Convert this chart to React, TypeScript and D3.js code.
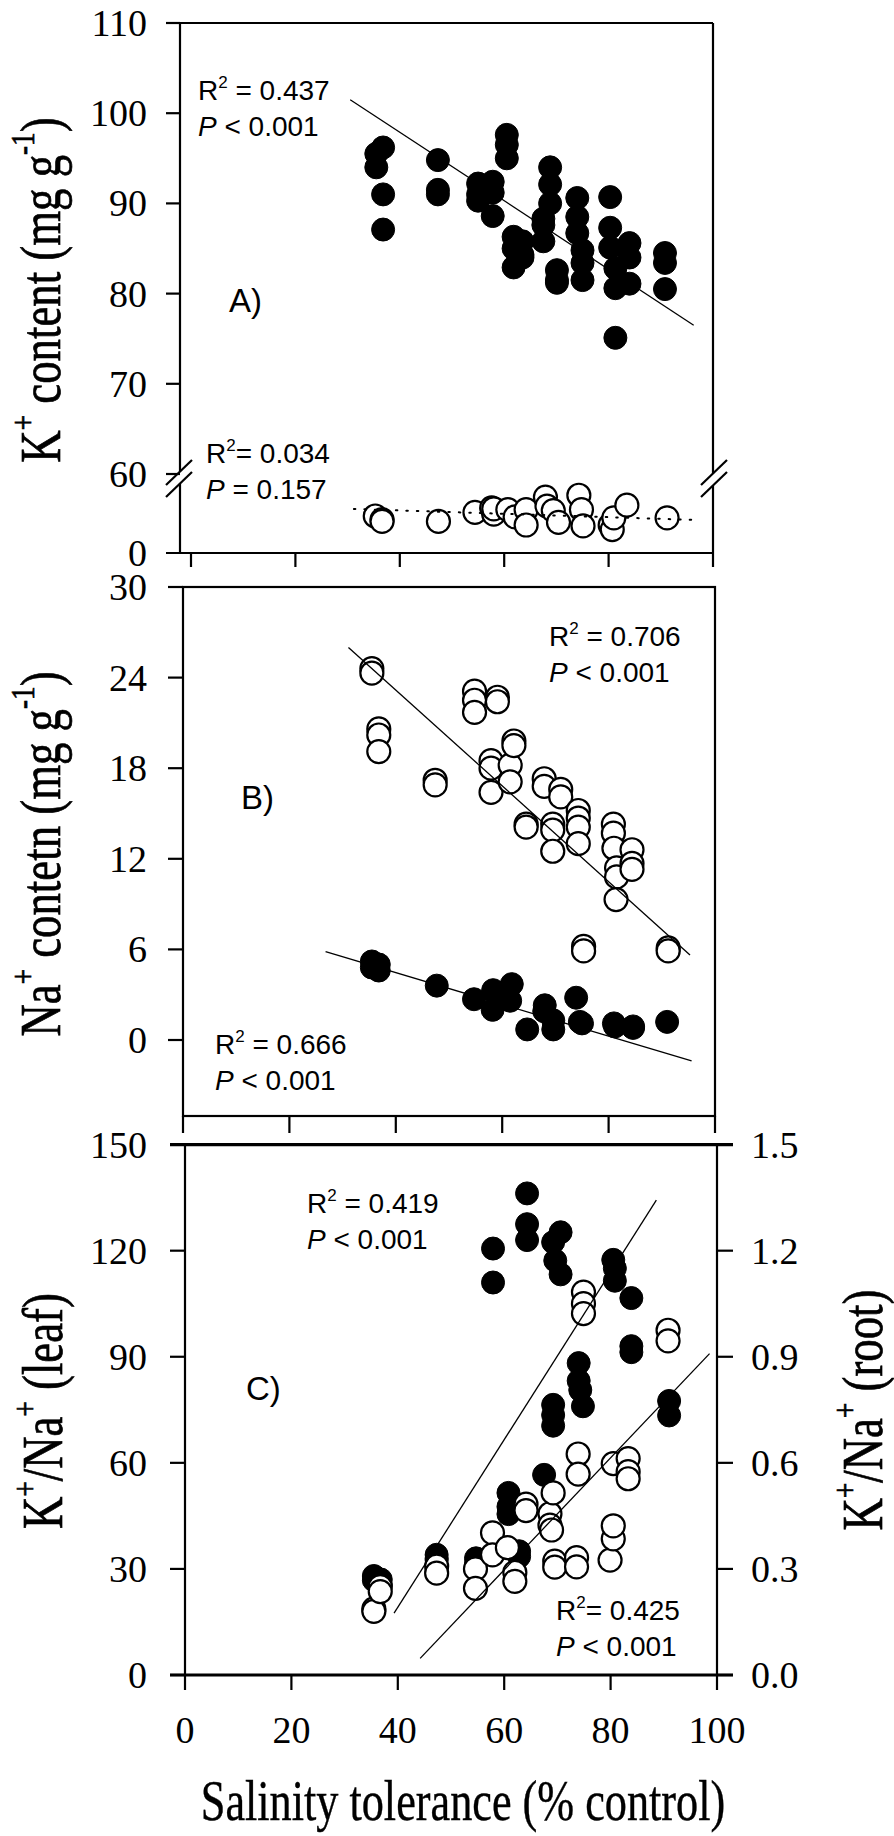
import React from "react";
import * as d3 from "d3";

// values (x = salinity tolerance, % control)
const xTicks = [0, 20, 40, 60, 80, 100];
const kTicksUpper = [60, 70, 80, 90, 100, 110];
const kTicksLower = [0];
const naTicks = [0, 6, 12, 18, 24, 30];
const leafTicks = [0, 30, 60, 90, 120, 150];
const rootTicks = [0, 0.3, 0.6, 0.9, 1.2, 1.5];

// A) K+ content, filled circles (upper segment)
const kFilled: [number, number][] = [
  [35.5, 95.5], [35.5, 94.0], [36.8, 96.2], [36.8, 91.0], [36.8, 87.1],
  [47.3, 94.8], [47.3, 91.5], [47.3, 91.0],
  [55.0, 92.2], [55.0, 91.0], [55.0, 90.3],
  [57.8, 92.4], [57.8, 91.2], [57.8, 88.6],
  [60.5, 97.6], [60.5, 96.5], [60.5, 95.0],
  [61.8, 86.3], [61.8, 85.0], [61.8, 82.9],
  [63.5, 85.8], [63.5, 84.3], [63.5, 84.0],
  [67.5, 88.3], [67.5, 87.6], [67.5, 85.8],
  [68.8, 94.0], [68.8, 92.1], [68.8, 90.0],
  [70.1, 82.6], [70.1, 81.5], [70.1, 81.2],
  [74.0, 90.6], [74.0, 88.5], [74.0, 86.7],
  [75.0, 84.8], [75.0, 83.4], [75.0, 81.5],
  [80.3, 90.7], [80.3, 87.3], [80.3, 85.1],
  [81.3, 82.8], [81.3, 80.6], [81.3, 75.1],
  [84.0, 85.6], [84.0, 84.0], [84.0, 81.1],
  [90.8, 84.5], [90.8, 83.4], [90.8, 80.5],
];
// A) K+ content, open circles (lower segment)
const kOpen: [number, number][] = [
  [35.3, 4.1], [36.6, 3.7], [36.6, 3.5], [47.4, 3.5], [54.4, 4.5],
  [57.6, 5.0], [58.0, 4.3], [58.0, 4.9], [60.7, 4.8], [62.1, 4.0],
  [64.2, 4.8], [64.2, 3.1], [67.9, 6.2], [68.2, 5.2], [69.4, 4.7],
  [70.4, 3.4], [74.3, 6.4], [74.8, 4.8], [75.1, 3.0], [80.3, 3.1],
  [80.7, 2.6], [81.0, 3.9], [83.5, 5.3], [91.2, 3.9],
];
// B) Na+ content
const naOpen: [number, number][] = [
  [35.5, 24.6], [35.5, 24.3], [36.8, 20.6], [36.8, 20.2], [36.8, 19.1],
  [47.4, 17.2], [47.4, 16.9], [54.8, 23.1], [54.8, 22.5], [54.8, 21.7],
  [59.1, 22.7], [59.1, 22.4], [57.9, 18.5], [57.9, 18.0], [57.9, 16.4],
  [61.5, 18.2], [61.5, 17.1], [62.2, 19.8], [62.2, 19.5],
  [64.5, 14.3], [64.5, 14.1], [67.9, 17.3], [67.9, 16.8],
  [69.5, 14.3], [69.5, 13.9], [69.5, 12.5], [71.0, 16.6], [71.0, 16.1],
  [74.3, 15.2], [74.3, 14.7], [74.3, 14.1], [74.3, 13.0],
  [75.3, 6.2], [75.3, 5.9],
  [80.9, 14.3], [80.9, 13.7], [81.0, 12.7], [81.5, 11.4], [81.5, 10.8], [81.4, 9.3],
  [84.4, 12.6], [84.4, 11.7], [84.4, 11.3],
  [91.2, 6.1], [91.2, 5.9],
];
const naFilled: [number, number][] = [
  [35.5, 5.2], [35.5, 4.8], [36.8, 5.0], [36.8, 4.6],
  [47.7, 3.6], [54.7, 2.7], [58.3, 3.3], [58.2, 2.0], [61.8, 3.7],
  [61.5, 2.6], [64.7, 0.7], [68.0, 2.3], [67.9, 1.9], [69.6, 1.3],
  [69.6, 0.7], [73.9, 2.8], [74.6, 1.2], [75.0, 1.1],
  [81.0, 1.1], [81.2, 0.9], [84.6, 0.9], [84.6, 0.8], [91.0, 1.2],
];
// C) K+/Na+ ratio, leaf (filled, left axis) and root (open, right axis)
const ratioLeaf: [number, number][] = [
  [35.5, 28.0], [35.5, 26.8], [36.8, 27.0], [36.8, 25.5],
  [47.3, 34.0], [47.3, 33.0], [47.3, 32.5], [54.7, 33.0], [54.7, 31.5],
  [57.9, 120.6], [57.9, 111.0], [60.8, 51.5], [60.8, 47.6], [60.8, 45.5],
  [62.8, 35.0], [62.8, 33.5], [64.3, 136.2], [64.3, 127.5], [64.3, 123.0],
  [67.5, 56.6], [69.2, 122.4], [69.6, 117.2], [70.6, 125.2], [70.6, 113.3],
  [69.2, 76.4], [69.2, 73.5], [69.2, 70.5],
  [74.0, 88.2], [74.0, 83.2], [74.3, 80.6], [74.8, 76.0],
  [80.5, 117.4], [80.8, 115.0], [80.8, 111.5],
  [83.9, 106.6], [83.9, 93.0], [83.9, 91.3], [91.0, 77.5], [91.0, 73.4],
];
const ratioRoot: [number, number][] = [
  [35.5, 0.187], [35.5, 0.18], [36.7, 0.25], [36.7, 0.236],
  [47.3, 0.308], [47.3, 0.288], [54.6, 0.3], [54.6, 0.245],
  [57.8, 0.402], [57.8, 0.34], [60.6, 0.36], [62.0, 0.29], [62.0, 0.265],
  [64.1, 0.483], [64.1, 0.465], [68.6, 0.456], [68.6, 0.424], [69.2, 0.515], [68.9, 0.41],
  [69.5, 0.322], [69.5, 0.305], [73.6, 0.332], [73.6, 0.306],
  [73.9, 0.625], [73.9, 0.568], [74.9, 1.083], [74.9, 1.05], [74.9, 1.022],
  [79.9, 0.325], [80.5, 0.385], [80.5, 0.422],
  [80.5, 0.598], [83.3, 0.612], [83.3, 0.575], [83.3, 0.555],
  [90.8, 0.975], [90.8, 0.945],
];

// regression lines (end points)
const fitKFilled: [number, number][] = [[30.5, 101.5], [96.3, 76.5]];
const fitKOpen: [number, number][] = [[31.2, 4.88], [96.7, 3.66]];
const fitNaOpen: [number, number][] = [[31.1, 26.0], [95.3, 5.63]];
const fitNaFilled: [number, number][] = [[26.8, 5.85], [95.6, -1.39]];
const fitLeaf: [number, number][] = [[39.3, 17.5], [88.6, 134.3]];
const fitRoot: [number, number][] = [[44.2, 0.047], [98.6, 0.909]];

const serif = "'Liberation Serif', 'Times New Roman', serif";
const sans = "'Liberation Sans', Arial, sans-serif";
const R = 11.5;
const AX = 2.2;

const xA = d3.scaleLinear().domain([0, 100]).range([191, 713]);
const yAup = d3.scaleLinear().domain([60, 110]).range([474, 23]);
const yAlow = d3.scaleLinear().domain([0, 8]).range([553, 480.8]);
const xB = d3.scaleLinear().domain([0, 100]).range([183, 715]);
const yB = d3.scaleLinear().domain([0, 30]).range([1040, 587]);
const xC = d3.scaleLinear().domain([0, 100]).range([185, 717]);
const yCL = d3.scaleLinear().domain([0, 150]).range([1675, 1144.6]);
const yCR = d3.scaleLinear().domain([0, 1.5]).range([1675, 1144.6]);

type Sc = d3.ScaleLinear<number, number>;
type Part = string | { sup: string };
const path = (d: [number, number][], sx: Sc, sy: Sc) =>
  d3.line<[number, number]>().x((p) => sx(p[0])).y((p) => sy(p[1]))(d) || "";

function Dots({ d, sx, sy, open }: { d: [number, number][]; sx: Sc; sy: Sc; open?: boolean }) {
  return (
    <g>
      {d.map((p, i) => (
        <circle key={i} cx={sx(p[0])} cy={sy(p[1])} r={R}
          fill={open ? "#fff" : "#000"} stroke="#000" strokeWidth={open ? 2.2 : 1} />
      ))}
    </g>
  );
}

function Stat({ x, y, r2, p }: { x: number; y: number; r2: string; p: string }) {
  return (
    <g fontFamily={sans} fontSize={28} style={{ whiteSpace: "pre" }}>
      <text x={x} y={y}>R<tspan fontSize={17} dy={-12}>2</tspan><tspan dy={12}>{r2}</tspan></text>
      <text x={x} y={y + 36}><tspan fontStyle="italic">P</tspan>{p}</text>
    </g>
  );
}

function YLabels({ ticks, sy, x, anchor, fmt }: { ticks: number[]; sy: Sc; x: number; anchor: string; fmt?: (v: number) => string }) {
  return (
    <g fontFamily={serif} fontSize={38} textAnchor={anchor}>
      {ticks.map((t) => (
        <text key={t} x={x} y={sy(t)} dy="0.34em">{fmt ? fmt(t) : t}</text>
      ))}
    </g>
  );
}

// text with raised superscripts
function Rich({ parts }: { parts: Part[] }) {
  let raised = false;
  return (
    <>
      {parts.map((p, i) => {
        if (typeof p === "string") {
          const dy = raised ? 26 : undefined;
          raised = false;
          return <tspan key={i} dy={dy}>{p}</tspan>;
        }
        raised = true;
        return <tspan key={i} fontSize={34} dy={-26}>{p.sup}</tspan>;
      })}
    </>
  );
}

function VTitle({ x, y, parts }: { x: number; y: number; parts: Part[] }) {
  return (
    <text transform={`translate(${x},${y}) rotate(-90) scale(0.8,1)`} textAnchor="middle"
      fontFamily={serif} fontSize={56} stroke="#000" strokeWidth={0.7} style={{ whiteSpace: "pre" }}>
      <Rich parts={parts} />
    </text>
  );
}

const titleA: Part[] = ["K", { sup: "+" }, " content (mg g", { sup: "-1" }, ")"];
const titleB: Part[] = ["Na", { sup: "+" }, " contetn (mg g", { sup: "-1" }, ")"];
const titleLeaf: Part[] = ["K", { sup: "+" }, "/Na", { sup: "+" }, " (leaf)"];
const titleRoot: Part[] = ["K", { sup: "+" }, "/Na", { sup: "+" }, " (root)"];

export default function App() {
  const f1 = d3.format(".1f");
  return (
    <svg width={894} height={1836} style={{ position: "absolute", left: 0, top: 0, background: "#fff" }}>
      <g stroke="#000" strokeWidth={AX} fill="none">
        {/* panel A frame with broken axis */}
        <line x1={166} x2={713} y1={23} y2={23} />
        <line x1={166} x2={713} y1={553} y2={553} />
        <line x1={180} x2={180} y1={23} y2={471.5} />
        <line x1={180} x2={180} y1={483.5} y2={553} />
        <line x1={713} x2={713} y1={23} y2={473.5} />
        <line x1={713} x2={713} y1={485.5} y2={553} />
        <line x1={166} y1={485} x2={192} y2={460} />
        <line x1={166} y1={497} x2={192} y2={472} />
        <line x1={701} y1={485} x2={727} y2={460} />
        <line x1={701} y1={497} x2={727} y2={472} />
        {kTicksUpper.map((t) => <line key={t} x1={166} x2={180} y1={yAup(t)} y2={yAup(t)} />)}
        {xTicks.map((t) => <line key={t} x1={xA(t)} x2={xA(t)} y1={553} y2={567} />)}
        {/* panel B frame */}
        <rect x={183} y={587} width={532} height={529} />
        {naTicks.map((t) => <line key={t} x1={168} x2={183} y1={yB(t)} y2={yB(t)} />)}
        {xTicks.map((t) => <line key={t} x1={xB(t)} x2={xB(t)} y1={1116} y2={1133} />)}
        {/* panel C frame */}
        <line x1={185} x2={185} y1={1144.6} y2={1675} />
        <line x1={717} x2={717} y1={1144.6} y2={1675} />
        <line x1={170} x2={733} y1={1144.6} y2={1144.6} strokeWidth={3.2} />
        <line x1={170} x2={733} y1={1675} y2={1675} strokeWidth={3.2} />
        {leafTicks.map((t) => <line key={t} x1={170} x2={185} y1={yCL(t)} y2={yCL(t)} />)}
        {rootTicks.map((t) => <line key={t} x1={717} x2={733} y1={yCR(t)} y2={yCR(t)} />)}
        {xTicks.map((t) => <line key={t} x1={xC(t)} x2={xC(t)} y1={1675} y2={1690} />)}
      </g>

      {/* panel A data */}
      <path d={path(fitKFilled, xA, yAup)} stroke="#000" strokeWidth={1.3} fill="none" />
      <Dots d={kFilled} sx={xA} sy={yAup} />
      <Dots d={kOpen} sx={xA} sy={yAlow} open />
      <path d={path(fitKOpen, xA, yAlow)} stroke="#000" strokeWidth={2} fill="none"
        strokeDasharray="1.5,9" strokeLinecap="round" />

      {/* panel B data */}
      <Dots d={naFilled} sx={xB} sy={yB} />
      <Dots d={naOpen} sx={xB} sy={yB} open />
      <path d={path(fitNaOpen, xB, yB)} stroke="#000" strokeWidth={1.3} fill="none" />
      <path d={path(fitNaFilled, xB, yB)} stroke="#000" strokeWidth={1.3} fill="none" />

      {/* panel C data */}
      <Dots d={ratioLeaf} sx={xC} sy={yCL} />
      <Dots d={ratioRoot} sx={xC} sy={yCR} open />
      <path d={path(fitLeaf, xC, yCL)} stroke="#000" strokeWidth={1.3} fill="none" />
      <path d={path(fitRoot, xC, yCR)} stroke="#000" strokeWidth={1.3} fill="none" />

      {/* tick labels */}
      <YLabels ticks={kTicksUpper} sy={yAup} x={147} anchor="end" />
      <YLabels ticks={kTicksLower} sy={yAlow} x={147} anchor="end" />
      <YLabels ticks={naTicks} sy={yB} x={147} anchor="end" />
      <YLabels ticks={leafTicks} sy={yCL} x={147} anchor="end" />
      <YLabels ticks={rootTicks} sy={yCR} x={751} anchor="start" fmt={f1} />
      <g fontFamily={serif} fontSize={38} textAnchor="middle">
        {xTicks.map((t) => <text key={t} x={xC(t)} y={1743}>{t}</text>)}
      </g>

      {/* statistics and panel letters */}
      <Stat x={198} y={100} r2=" = 0.437" p=" < 0.001" />
      <Stat x={206} y={463} r2="=  0.034" p=" = 0.157" />
      <Stat x={549} y={646} r2=" = 0.706" p=" < 0.001" />
      <Stat x={215} y={1054} r2=" = 0.666" p=" < 0.001" />
      <Stat x={307} y={1213} r2=" = 0.419" p=" < 0.001" />
      <Stat x={556} y={1620} r2="= 0.425" p=" < 0.001" />
      <g fontFamily={sans} fontSize={33}>
        <text x={229} y={312}>A)</text>
        <text x={241} y={809}>B)</text>
        <text x={246} y={1400}>C)</text>
      </g>

      {/* axis titles */}
      <VTitle x={60} y={290} parts={titleA} />
      <VTitle x={60} y={854} parts={titleB} />
      <VTitle x={62} y={1411} parts={titleLeaf} />
      <VTitle x={882} y={1410} parts={titleRoot} />
      <text transform="translate(463,1820) scale(0.79,1)" textAnchor="middle"
        fontFamily={serif} fontSize={56} stroke="#000" strokeWidth={0.4}>Salinity tolerance (% control)</text>
    </svg>
  );
}
